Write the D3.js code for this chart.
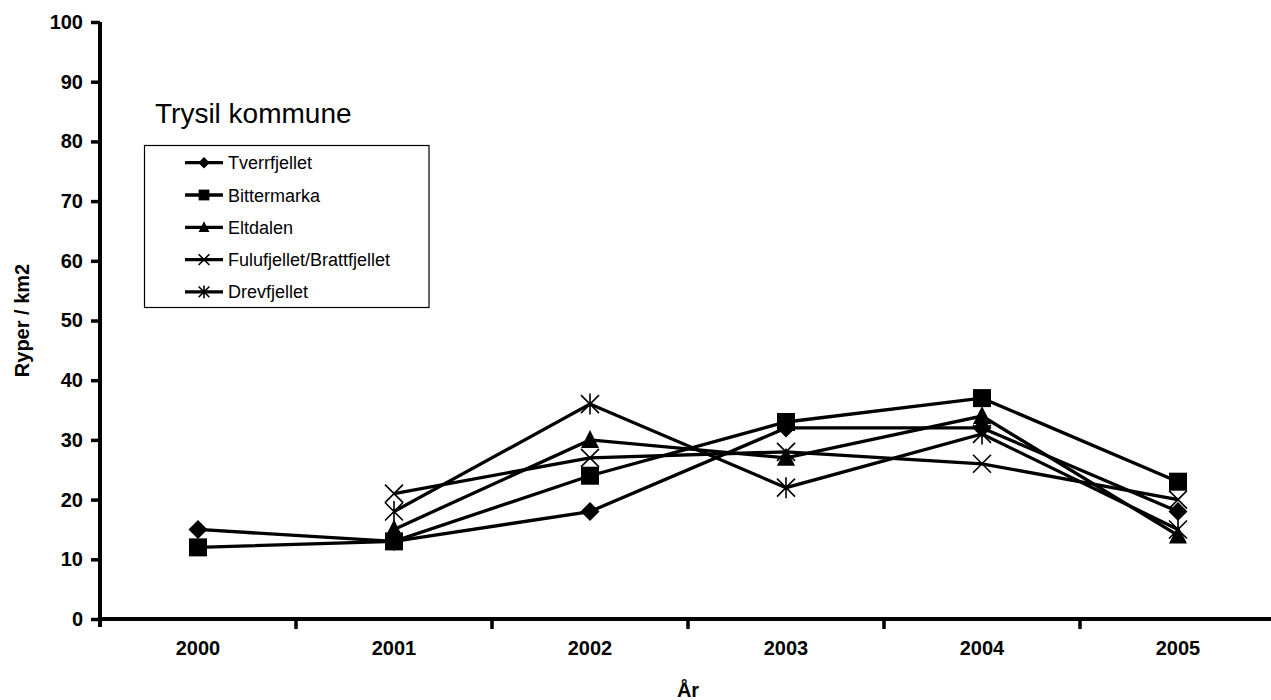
<!DOCTYPE html>
<html><head><meta charset="utf-8">
<script src="https://cdn.jsdelivr.net/npm/d3@7"></script>
<style>body{margin:0;background:#fff}svg{display:block;font-family:"Liberation Sans",Arial,sans-serif}</style>
</head><body><svg id="c" width="1271" height="700"></svg>
<script>
const years = ["2000","2001","2002","2003","2004","2005"];
const yTicks = [0,10,20,30,40,50,60,70,80,90,100];
const tverrfjellet = [15,13,18,32,32,18];
const bittermarka = [12,13,24,33,37,23];
const eltdalen = [null,15,30,27,34,14];
const fulufjellet = [null,21,27,28,26,20];
const drevfjellet = [null,18,36,22,31,15];
const seriesNames = ["Tverrfjellet","Bittermarka","Eltdalen","Fulufjellet/Brattfjellet","Drevfjellet"];
const markers = ["diamond","square","triangle","x","asterisk"];
const seriesValues = [tverrfjellet,bittermarka,eltdalen,fulufjellet,drevfjellet];

const svg = d3.select("#c");
const FONT = "Liberation Sans, Arial, sans-serif";
const mLeft = 100, mRight = 1276, mTop = 22, mBottom = 619;
const x = d3.scaleBand().domain(years).range([mLeft, mRight]).padding(0);
const y = d3.scaleLinear().domain([0,100]).range([mBottom, mTop]);

function drawMarker(g, type, cx, cy, k) {
  k = k || 1;
  const s = 9.5*k, q = 9*k, sw = 1.6;
  if (type === "diamond") {
    g.append("path").attr("d", `M${cx},${cy-s}L${cx+s},${cy}L${cx},${cy+s}L${cx-s},${cy}Z`).attr("fill","#000");
  } else if (type === "square") {
    g.append("rect").attr("x",cx-q).attr("y",cy-q).attr("width",2*q).attr("height",2*q).attr("fill","#000");
  } else if (type === "triangle") {
    g.append("path").attr("d", `M${cx},${cy-10*k}L${cx+9*k},${cy+8*k}L${cx-9*k},${cy+8*k}Z`).attr("fill","#000");
  } else if (type === "x") {
    g.append("path").attr("d", `M${cx-q},${cy-q}L${cx+q},${cy+q}M${cx-q},${cy+q}L${cx+q},${cy-q}`).attr("stroke","#000").attr("stroke-width",sw);
  } else if (type === "asterisk") {
    g.append("path").attr("d", `M${cx-q},${cy-q}L${cx+q},${cy+q}M${cx-q},${cy+q}L${cx+q},${cy-q}M${cx},${cy-10.5*k}L${cx},${cy+10.5*k}`).attr("stroke","#000").attr("stroke-width",sw);
  }
}

// y axis
const yAxis = svg.append("g").attr("transform",`translate(${mLeft},0)`)
  .call(d3.axisLeft(y).tickValues(yTicks).tickSize(9).tickPadding(8));
yAxis.select(".domain").attr("d",`M0,${mTop}V${mBottom+8}`).attr("stroke-width",4);
yAxis.selectAll(".tick line").attr("stroke-width",3.5);
yAxis.selectAll("text").attr("font-size",20).attr("font-weight","bold").attr("fill","#000").attr("font-family",FONT);

// x axis
const xAxis = svg.append("g").attr("transform",`translate(0,${mBottom})`)
  .call(d3.axisBottom(x).tickSize(0).tickPadding(22));
xAxis.select(".domain").attr("d",`M${mLeft},0H${mRight}`).attr("stroke-width",4);
xAxis.selectAll("text").attr("font-size",20).attr("font-weight","bold").attr("fill","#000").attr("font-family",FONT);
const bounds = years.map(d => x(d)).concat([x(years[years.length-1]) + x.bandwidth()]);
svg.append("g").selectAll("line").data(bounds.slice(1)).join("line")
  .attr("x1",d=>d).attr("x2",d=>d).attr("y1",mBottom).attr("y2",mBottom+10)
  .attr("stroke","#000").attr("stroke-width",3.5);

// axis titles
svg.append("text").attr("transform",`translate(29,${(mTop+mBottom)/2}) rotate(-90)`)
  .attr("text-anchor","middle").attr("font-size",20).attr("font-weight","bold").attr("font-family",FONT).text("Ryper / km2");
svg.append("text").attr("x",688).attr("y",697)
  .attr("text-anchor","middle").attr("font-size",20).attr("font-weight","bold").attr("font-family",FONT).text("År");

// series
const cxf = d => x(d) + x.bandwidth()/2;
const line = d3.line().defined(d => d.v != null).x(d => cxf(d.yr)).y(d => y(d.v));
seriesValues.forEach((vals, i) => {
  const pts = years.map((yr, j) => ({yr, v: vals[j]}));
  svg.append("path").datum(pts).attr("d", line).attr("fill","none").attr("stroke","#000").attr("stroke-width",3.3);
  const g = svg.append("g");
  pts.filter(p => p.v != null).forEach(p => drawMarker(g, markers[i], cxf(p.yr), y(p.v)));
});

svg.append("text").attr("x",155).attr("y",123).attr("font-size",28).attr("font-family",FONT).text("Trysil kommune");

// legend
const lg = svg.append("g");
lg.append("rect").attr("x",144.5).attr("y",145.5).attr("width",284.5).attr("height",162).attr("fill","#fff").attr("stroke","#000").attr("stroke-width",1.2);
seriesNames.forEach((name, i) => {
  const ly = 162.7 + i*32.3;
  lg.append("line").attr("x1",185).attr("x2",223).attr("y1",ly).attr("y2",ly).attr("stroke","#000").attr("stroke-width",3.3);
  drawMarker(lg.append("g"), markers[i], 204, ly, 0.6);
  lg.append("text").attr("x",228).attr("y",ly+6.5).attr("font-size",18).attr("font-family",FONT).text(name);
});
</script></body></html>
